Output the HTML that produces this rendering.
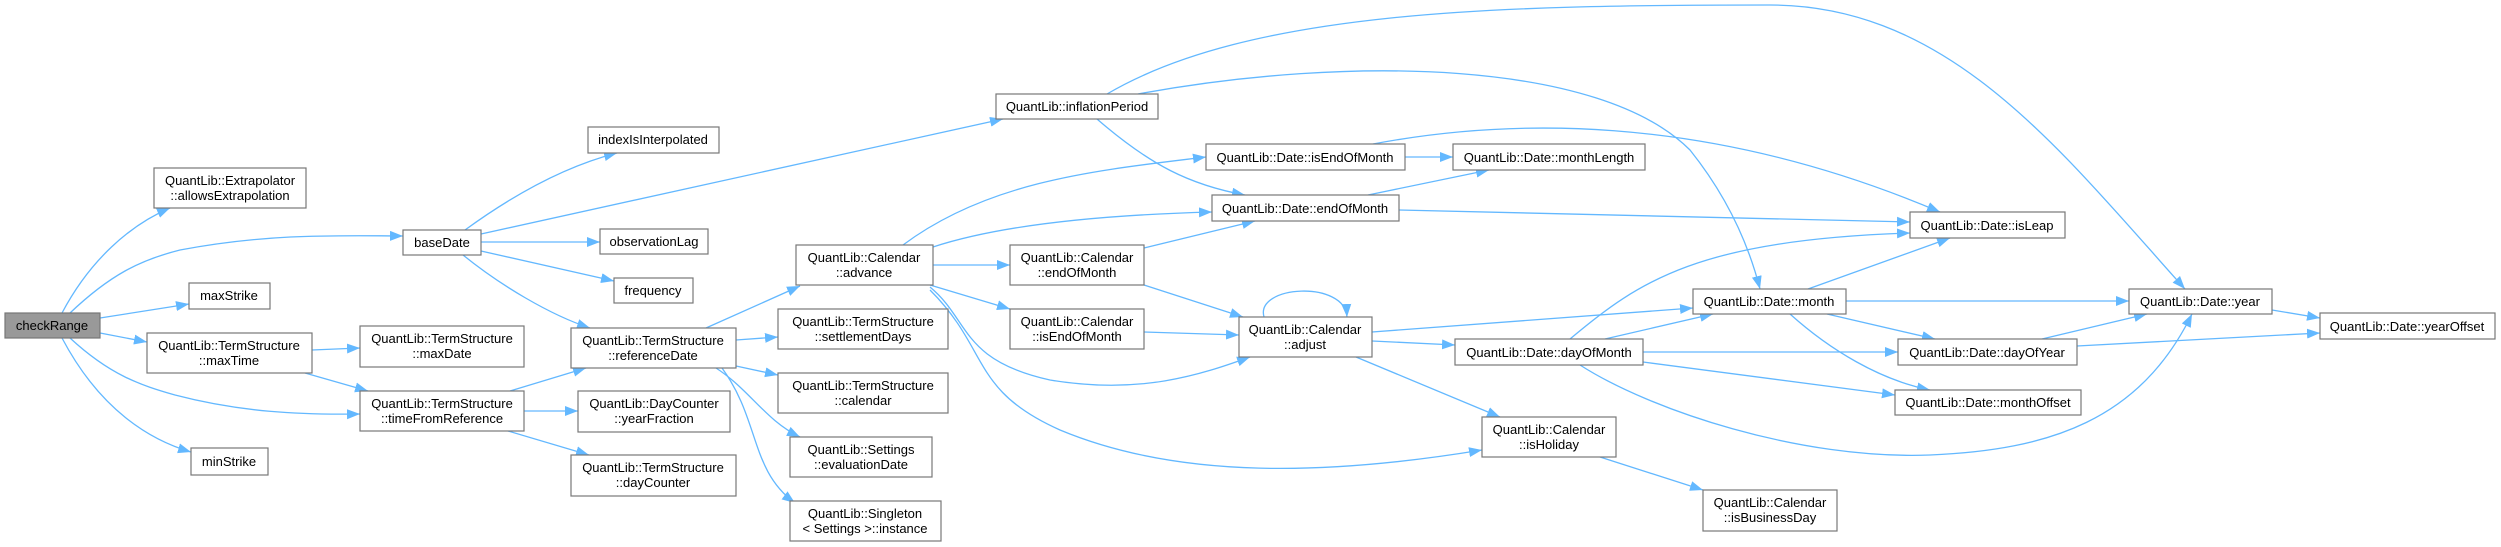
<!DOCTYPE html>
<html><head><meta charset="utf-8"><style>
html,body{margin:0;padding:0;background:#fff;}
svg{display:block;}
text{font-family:"Liberation Sans",Arial,sans-serif;font-size:13px;fill:#000;text-anchor:middle;}
rect{fill:#fff;stroke:#777;stroke-width:1.2;}
path.e{fill:none;stroke:#63b8ff;stroke-width:1.3;marker-end:url(#a);}
</style></head><body>
<svg width="2501" height="547" viewBox="0 0 2501 547" xmlns="http://www.w3.org/2000/svg">
<defs><marker id="a" markerUnits="userSpaceOnUse" markerWidth="14" markerHeight="11" refX="13" refY="5" orient="auto"><path d="M0,0 L13,5 L0,10 z" fill="#63b8ff"/></marker></defs>

<!-- edges -->
<path class="e" d="M62,313 C90,260 130,225 170,208"/>
<path class="e" d="M70,313 C110,275 140,260 180,250 C260,235 320,235 403,236"/>
<path class="e" d="M100,318 L189,304"/>
<path class="e" d="M100,333 L147,342"/>
<path class="e" d="M70,338 C110,375 140,385 175,395 C240,412 300,415 360,414"/>
<path class="e" d="M62,338 C100,410 150,440 191,452"/>
<path class="e" d="M312,350 L360,348"/>
<path class="e" d="M305,373 L368,391"/>
<path class="e" d="M510,391 L586,368"/>
<path class="e" d="M524,411 L578,411"/>
<path class="e" d="M508,431 L589,455"/>
<path class="e" d="M465,230 C520,190 570,165 617,153"/>
<path class="e" d="M481,234 L1003,119"/>
<path class="e" d="M481,242 L600,242"/>
<path class="e" d="M481,251 L614,281"/>
<path class="e" d="M463,255 C500,285 550,315 590,328"/>
<path class="e" d="M706,328 L800,286"/>
<path class="e" d="M736,340 L778,337"/>
<path class="e" d="M736,366 L778,375"/>
<path class="e" d="M716,368 C750,390 765,420 800,437"/>
<path class="e" d="M722,368 C760,420 750,470 795,503"/>
<path class="e" d="M1107,94 C1250,10 1500,5 1770,5 C1950,5 2060,150 2185,289"/>
<path class="e" d="M1138,94 C1350,55 1600,60 1690,150 C1730,200 1750,250 1760,289"/>
<path class="e" d="M1097,119 C1150,165 1190,185 1245,195"/>
<path class="e" d="M903,245 C990,180 1100,170 1206,157"/>
<path class="e" d="M933,247 C1000,225 1100,215 1212,212"/>
<path class="e" d="M933,265 L1010,265"/>
<path class="e" d="M930,285 L1010,309"/>
<path class="e" d="M930,287 C970,320 960,360 1050,380 C1140,395 1200,375 1250,357"/>
<path class="e" d="M930,290 C990,350 970,390 1060,430 C1180,480 1330,475 1482,450"/>
<path class="e" d="M1144,248 L1255,221"/>
<path class="e" d="M1144,285 L1243,317"/>
<path class="e" d="M1144,332 L1239,335"/>
<path class="e" d="M1264,317 C1255,285 1345,280 1347,317"/>
<path class="e" d="M1372,332 L1693,308"/>
<path class="e" d="M1372,341 L1455,345"/>
<path class="e" d="M1356,357 L1500,417"/>
<path class="e" d="M1405,157 L1453,157"/>
<path class="e" d="M1373,144 C1500,120 1700,110 1940,212"/>
<path class="e" d="M1368,195 L1489,170"/>
<path class="e" d="M1399,210 L1910,222"/>
<path class="e" d="M1570,339 C1640,280 1700,240 1910,233"/>
<path class="e" d="M1605,339 L1713,314"/>
<path class="e" d="M1643,352 L1898,352"/>
<path class="e" d="M1643,362 L1895,395"/>
<path class="e" d="M1580,365 C1650,410 1800,460 1930,455 C2050,450 2140,420 2192,314"/>
<path class="e" d="M1600,457 L1703,490"/>
<path class="e" d="M1808,289 L1950,238"/>
<path class="e" d="M1846,301 L2129,301"/>
<path class="e" d="M1827,314 L1935,339"/>
<path class="e" d="M1790,314 C1830,350 1880,380 1930,390"/>
<path class="e" d="M2042,339 L2147,314"/>
<path class="e" d="M2077,346 L2320,333"/>
<path class="e" d="M2272,310 L2320,318"/>

<!-- nodes -->
<rect x="5" y="313" width="95" height="25" style="fill:#999"/><text x="52" y="330">checkRange</text>
<rect x="154" y="168" width="152" height="40"/><text x="230" y="185">QuantLib::Extrapolator</text><text x="230" y="200">::allowsExtrapolation</text>
<rect x="403" y="230" width="78" height="25"/><text x="442" y="247">baseDate</text>
<rect x="189" y="283" width="81" height="26"/><text x="229" y="300">maxStrike</text>
<rect x="147" y="333" width="165" height="40"/><text x="229" y="350">QuantLib::TermStructure</text><text x="229" y="365">::maxTime</text>
<rect x="191" y="448" width="77" height="27"/><text x="229" y="466">minStrike</text>
<rect x="360" y="326" width="164" height="41"/><text x="442" y="343">QuantLib::TermStructure</text><text x="442" y="358">::maxDate</text>
<rect x="360" y="391" width="164" height="40"/><text x="442" y="408">QuantLib::TermStructure</text><text x="442" y="423">::timeFromReference</text>
<rect x="588" y="127" width="131" height="26"/><text x="653" y="144">indexIsInterpolated</text>
<rect x="600" y="229" width="108" height="25"/><text x="654" y="246">observationLag</text>
<rect x="614" y="278" width="79" height="25"/><text x="653" y="295">frequency</text>
<rect x="571" y="328" width="165" height="40"/><text x="653" y="345">QuantLib::TermStructure</text><text x="653" y="360">::referenceDate</text>
<rect x="578" y="391" width="152" height="41"/><text x="654" y="408">QuantLib::DayCounter</text><text x="654" y="423">::yearFraction</text>
<rect x="571" y="455" width="165" height="41"/><text x="653" y="472">QuantLib::TermStructure</text><text x="653" y="487">::dayCounter</text>
<rect x="996" y="94" width="162" height="25"/><text x="1077" y="111">QuantLib::inflationPeriod</text>
<rect x="796" y="245" width="137" height="40"/><text x="864" y="262">QuantLib::Calendar</text><text x="864" y="277">::advance</text>
<rect x="778" y="309" width="170" height="40"/><text x="863" y="326">QuantLib::TermStructure</text><text x="863" y="341">::settlementDays</text>
<rect x="778" y="373" width="170" height="40"/><text x="863" y="390">QuantLib::TermStructure</text><text x="863" y="405">::calendar</text>
<rect x="790" y="437" width="142" height="40"/><text x="861" y="454">QuantLib::Settings</text><text x="861" y="469">::evaluationDate</text>
<rect x="790" y="501" width="151" height="40"/><text x="865" y="518">QuantLib::Singleton</text><text x="865" y="533">&lt; Settings &gt;::instance</text>
<rect x="1206" y="144" width="199" height="26"/><text x="1305" y="162">QuantLib::Date::isEndOfMonth</text>
<rect x="1453" y="144" width="192" height="26"/><text x="1549" y="162">QuantLib::Date::monthLength</text>
<rect x="1212" y="195" width="187" height="26"/><text x="1305" y="213">QuantLib::Date::endOfMonth</text>
<rect x="1010" y="245" width="134" height="40"/><text x="1077" y="262">QuantLib::Calendar</text><text x="1077" y="277">::endOfMonth</text>
<rect x="1010" y="309" width="134" height="40"/><text x="1077" y="326">QuantLib::Calendar</text><text x="1077" y="341">::isEndOfMonth</text>
<rect x="1239" y="317" width="133" height="40"/><text x="1305" y="334">QuantLib::Calendar</text><text x="1305" y="349">::adjust</text>
<rect x="1455" y="339" width="188" height="26"/><text x="1549" y="357">QuantLib::Date::dayOfMonth</text>
<rect x="1482" y="417" width="134" height="40"/><text x="1549" y="434">QuantLib::Calendar</text><text x="1549" y="449">::isHoliday</text>
<rect x="1910" y="212" width="155" height="26"/><text x="1987" y="230">QuantLib::Date::isLeap</text>
<rect x="1693" y="289" width="153" height="25"/><text x="1769" y="306">QuantLib::Date::month</text>
<rect x="2129" y="289" width="143" height="25"/><text x="2200" y="306">QuantLib::Date::year</text>
<rect x="2320" y="313" width="175" height="26"/><text x="2407" y="331">QuantLib::Date::yearOffset</text>
<rect x="1898" y="339" width="179" height="26"/><text x="1987" y="357">QuantLib::Date::dayOfYear</text>
<rect x="1895" y="390" width="186" height="25"/><text x="1988" y="407">QuantLib::Date::monthOffset</text>
<rect x="1703" y="490" width="134" height="41"/><text x="1770" y="507">QuantLib::Calendar</text><text x="1770" y="522">::isBusinessDay</text>
</svg>
</body></html>
